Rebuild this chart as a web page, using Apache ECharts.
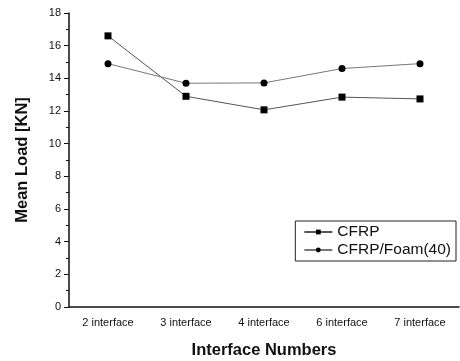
<!DOCTYPE html>
<html>
<head>
<meta charset="utf-8">
<script src="https://cdn.jsdelivr.net/npm/echarts@6/dist/echarts.min.js"></script>
<style>
  html, body { margin: 0; padding: 0; background: #fff; }
  #chart { width: 460px; height: 361px; }
</style>
</head>
<body>
<div id="chart"></div>
<script>
// 数据
const categories = ['2 interface', '3 interface', '4 interface', '6 interface', '7 interface'];
const cfrpValues = [16.6, 12.9, 12.07, 12.85, 12.74];
const foamValues = [14.9, 13.7, 13.72, 14.6, 14.9];
const yTicks = [0, 2, 4, 6, 8, 10, 12, 14, 16, 18];

const chart = echarts.init(document.getElementById('chart'));

const option = {
    animation: false,
    backgroundColor: '#fff',
    textStyle: { fontFamily: 'Liberation Sans, Arial, sans-serif' },
    grid: { left: 69, right: 1, top: 13, bottom: 54, outerBoundsMode: 'none' },
    legend: {
        right: 4,
        top: 221,
        orient: 'vertical',
        itemGap: 2,
        itemWidth: 28,
        itemHeight: 6,
        padding: [3, 5, 3, 8],
        borderColor: '#222',
        borderWidth: 1,
        textStyle: { color: '#111', fontSize: 15.5 },
        data: ['CFRP', 'CFRP/Foam(40)']
    },
    xAxis: [
        {
            type: 'category',
            data: categories,
            name: 'Interface Numbers',
            nameLocation: 'middle',
            nameGap: 35,
            nameTextStyle: { fontSize: 16.5, fontWeight: 'bold', color: '#111' },
            axisLine: { lineStyle: { color: '#111', width: 1.5 } },
            axisTick: { alignWithLabel: true, length: 5, lineStyle: { color: '#111' } },
            axisLabel: { color: '#111', fontSize: 11, margin: 10 }
        },
        {
            // 副刻度（类目边界处的短刻度）
            type: 'category',
            data: categories,
            position: 'bottom',
            axisLine: { show: false },
            axisTick: { alignWithLabel: false, length: 3, lineStyle: { color: '#111' } },
            axisLabel: { show: false }
        }
    ],
    yAxis: {
        type: 'value',
        min: 0,
        max: 18,
        interval: 2,
        name: 'Mean Load [KN]',
        nameLocation: 'middle',
        nameGap: 38,
        nameTextStyle: { fontSize: 16.5, fontWeight: 'bold', color: '#111' },
        axisLine: { show: true, lineStyle: { color: '#111', width: 1.5 } },
        axisTick: { show: true, length: 5, lineStyle: { color: '#111' } },
        minorTick: { show: true, splitNumber: 2, length: 3, lineStyle: { color: '#111' } },
        splitLine: { show: false },
        axisLabel: {
            color: '#111', fontSize: 11, margin: 8,
            formatter: v => yTicks.includes(v) ? String(v) : ''
        }
    },
    series: [
        {
            name: 'CFRP',
            type: 'line',
            data: cfrpValues,
            symbol: 'rect',
            symbolSize: 7,
            itemStyle: { color: '#000' },
            lineStyle: { color: '#555', width: 1 }
        },
        {
            name: 'CFRP/Foam(40)',
            type: 'line',
            data: foamValues,
            symbol: 'circle',
            symbolSize: 7,
            itemStyle: { color: '#000' },
            lineStyle: { color: '#777', width: 1 }
        }
    ]
};

chart.setOption(option);
</script>
</body>
</html>
